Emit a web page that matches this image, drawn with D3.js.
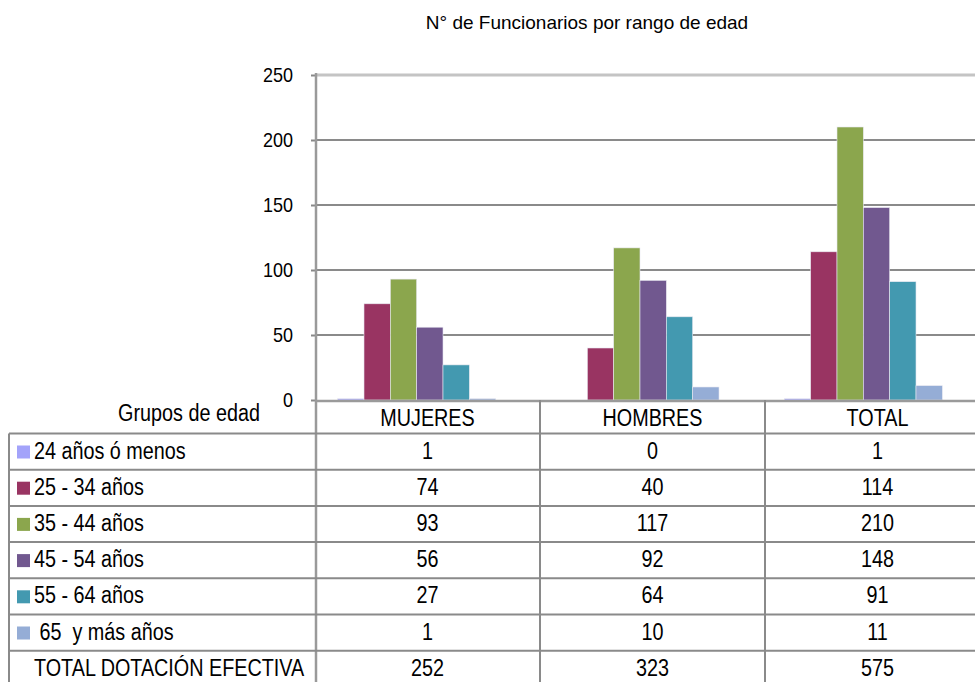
<!DOCTYPE html>
<html>
<head>
<meta charset="utf-8">
<script src="https://cdn.jsdelivr.net/npm/d3@7"></script>
<style>
  body { margin: 0; background: #fff; }
  text { font-family: "Liberation Sans", Arial, sans-serif; fill: #000; }
</style>
</head>
<body>
<div id="chart"></div>
<script>
// Data
const categories = ["MUJERES", "HOMBRES", "TOTAL"];
const seriesNames = ["24 años ó menos", "25 - 34 años", "35 - 44 años", "45 - 54 años", "55 - 64 años", " 65  y más años"];
const seriesColors = ["#a3a3fa", "#993462", "#8ba64d", "#71588f", "#4399b0", "#95add6"];
const age24 = [1, 0, 1];
const age25 = [74, 40, 114];
const age35 = [93, 117, 210];
const age45 = [56, 92, 148];
const age55 = [27, 64, 91];
const age65 = [1, 10, 11];
const totals = [252, 323, 575];
const yTicks = [0, 50, 100, 150, 200, 250];

const seriesValues = [age24, age25, age35, age45, age55, age65];

const svgWidth = 975;
const svgHeight = 682;
const plot = { left: 316, right: 975, top: 75, bottom: 400 };

// the source font is a narrow one, so squeeze the text a bit
const tableFont = 23;
const tableSqueeze = 0.86;

const svg = d3.select("#chart")
  .append("svg")
  .attr("width", svgWidth)
  .attr("height", svgHeight);

function addText(parent, x, y, str, anchor, size, sx) {
  return parent.append("text")
    .attr("transform", `translate(${x},${y}) scale(${sx},1)`)
    .attr("text-anchor", anchor)
    .attr("xml:space", "preserve")
    .style("font-size", size + "px")
    .text(str);
}

// Title
addText(svg, 587, 29, "N° de Funcionarios por rango de edad", "middle", 19, 1);

// Scales
const yScale = d3.scaleLinear()
  .domain([0, 250])
  .range([plot.bottom, plot.top]);

const groupScale = d3.scaleBand()
  .domain(categories)
  .range([305, 975]);

const barScale = d3.scaleBand()
  .domain(d3.range(seriesNames.length))
  .range([0, groupScale.bandwidth()])
  .paddingInner(0)
  .paddingOuter(1.24);

// Gridlines
svg.append("g")
  .selectAll("line")
  .data(yTicks.filter(t => t > 0 && t < 250))
  .enter()
  .append("line")
  .attr("x1", plot.left)
  .attr("x2", plot.right)
  .attr("y1", d => yScale(d))
  .attr("y2", d => yScale(d))
  .attr("stroke", "#8a8a8a")
  .attr("stroke-width", 2);

// top border of plot area
svg.append("line")
  .attr("x1", plot.left)
  .attr("x2", plot.right)
  .attr("y1", yScale(250))
  .attr("y2", yScale(250))
  .attr("stroke", "#c4c4c4")
  .attr("stroke-width", 3);

// Bars
const groups = svg.append("g")
  .selectAll("g")
  .data(categories)
  .enter()
  .append("g")
  .attr("transform", d => `translate(${groupScale(d)},0)`);

groups.selectAll("rect")
  .data((c, ci) => seriesValues.map((vals, si) => ({ si, v: vals[ci] })))
  .enter()
  .append("rect")
  .attr("x", d => barScale(d.si))
  .attr("y", d => yScale(d.v))
  .attr("width", barScale.bandwidth())
  .attr("height", d => plot.bottom - yScale(d.v))
  .attr("fill", d => seriesColors[d.si])
  .attr("stroke", "#e8e8f0")
  .attr("stroke-width", 0.6);

// Y axis (labels drawn by hand so they can be squeezed)
const yAxis = svg.append("g")
  .attr("transform", `translate(${plot.left},0)`)
  .call(d3.axisLeft(yScale).tickValues(yTicks).tickSize(5).tickFormat(""));
yAxis.select(".domain").remove();
yAxis.selectAll(".tick line").attr("stroke", "#888").attr("stroke-width", 2);

yTicks.forEach(t => {
  addText(svg, 293, yScale(t) + 7, String(t), "end", 20, 0.9);
});

svg.append("line")
  .attr("x1", plot.left)
  .attr("x2", plot.left)
  .attr("y1", plot.top - 2)
  .attr("y2", svgHeight)
  .attr("stroke", "#9a9a9a")
  .attr("stroke-width", 2.5);

// X axis baseline
svg.append("line")
  .attr("x1", plot.left)
  .attr("x2", plot.right)
  .attr("y1", plot.bottom + 1)
  .attr("y2", plot.bottom + 1)
  .attr("stroke", "#9a9a9a")
  .attr("stroke-width", 2.5);

// Data table
const colScale = d3.scaleBand()
  .domain(categories)
  .range([315, 990]);

const rowLabels = seriesNames.concat(["TOTAL DOTACIÓN EFECTIVA"]);
const rowValues = seriesValues.concat([totals]);
const tableTop = 433.5;
const rowScale = d3.scaleBand()
  .domain(d3.range(rowLabels.length))
  .range([tableTop, tableTop + rowLabels.length * 36.2]);

const lineColor = "#8a8a8a";
const table = svg.append("g");

// horizontal rules
table.selectAll("line.h")
  .data(d3.range(rowLabels.length + 1))
  .enter()
  .append("line")
  .attr("class", "h")
  .attr("x1", 9)
  .attr("x2", svgWidth)
  .attr("y1", i => tableTop + i * rowScale.step())
  .attr("y2", i => tableTop + i * rowScale.step())
  .attr("stroke", lineColor)
  .attr("stroke-width", 2);

// vertical rules
table.append("line")
  .attr("x1", 9).attr("x2", 9)
  .attr("y1", tableTop).attr("y2", svgHeight)
  .attr("stroke", lineColor).attr("stroke-width", 2);

table.selectAll("line.v")
  .data(categories.slice(1))
  .enter()
  .append("line")
  .attr("class", "v")
  .attr("x1", d => colScale(d))
  .attr("x2", d => colScale(d))
  .attr("y1", plot.bottom)
  .attr("y2", svgHeight)
  .attr("stroke", lineColor)
  .attr("stroke-width", 2);

// header
addText(table, 189, 421, "Grupos de edad", "middle", tableFont, tableSqueeze);
categories.forEach(c => {
  addText(table, colScale(c) + colScale.bandwidth() / 2, 426, c, "middle", tableFont, tableSqueeze);
});

// rows: legend key, label, values
rowLabels.forEach((label, i) => {
  const top = rowScale(i);
  if (i < seriesNames.length) {
    table.append("rect")
      .attr("x", 17)
      .attr("y", top + 12)
      .attr("width", 13)
      .attr("height", 13)
      .attr("fill", seriesColors[i]);
  }
  addText(table, 34, top + 25, label, "start", tableFont, tableSqueeze);
  rowValues[i].forEach((v, ci) => {
    const c = categories[ci];
    addText(table, colScale(c) + colScale.bandwidth() / 2, top + 25, String(v), "middle", tableFont, tableSqueeze);
  });
});
</script>
</body>
</html>
